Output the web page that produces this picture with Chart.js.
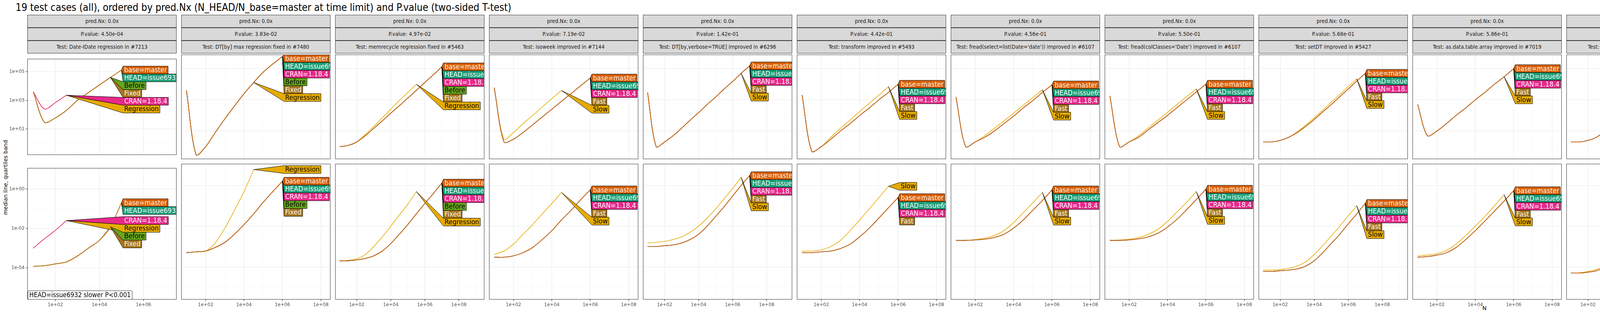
<!DOCTYPE html>
<html><head><meta charset="utf-8">
<script src="https://cdn.jsdelivr.net/npm/chart.js@4.4.1/dist/chart.umd.min.js"></script>
<style>
body{margin:0;background:#fff;width:7600px;height:800px;position:relative;overflow:hidden;font-family:'Liberation Sans Narrow','DejaVu Sans Condensed',sans-serif;}
.strip{position:absolute;background:#D9D9D9;border:1px solid #333;box-sizing:border-box;font-size:14px;color:#1a1a1a;text-align:center;white-space:nowrap;overflow:hidden}
.vstrip{position:absolute;background:#D9D9D9;border:1px solid #333;box-sizing:border-box;font-size:14px;color:#1a1a1a;}
.vstrip span{position:absolute;left:50%;top:50%;transform:translate(-50%,-50%) rotate(90deg);white-space:nowrap}
canvas{position:absolute}
</style></head><body>
<div style="position:absolute;left:40px;top:4px;font-size:26px;color:#000;white-space:nowrap">19 test cases (all), ordered by pred.Nx (N_HEAD/N_base=master at time limit) and P.value (two-sided T-test)</div>
<div style="position:absolute;left:14px;top:455px;width:0;height:0"><div style="position:absolute;transform:translate(-50%,-50%) rotate(-90deg);font-family:'DejaVu Sans',sans-serif;font-size:14px;white-space:nowrap">median line, quartiles band</div></div>
<div style="position:absolute;left:3795px;top:782px;font-family:'DejaVu Sans',sans-serif;font-size:14px">N</div>
<div style="position:absolute;left:71px;top:745px;height:21px;padding:0 3px;border:1px solid #333;border-radius:3px;background:#fff;font-size:17px;line-height:21px;z-index:5">HEAD=issue6932 slower P&lt;0.001</div>
<div id="root"></div>
<script>
const tests = ["Date-IDate regression in #7213","DT[by] max regression fixed in #7480","memrecycle regression fixed in #5463","isoweek improved in #7144","DT[by,verbose=TRUE] improved in #6296","transform improved in #5493","fread(select=list(Date='date')) improved in #6107","fread(colClasses='Date') improved in #6107","setDT improved in #5427","as.data.table.array improved in #7019","forderv(retGrp=F) improved in #4386","fread(colClasses=list(Date='date')) improved in #6107","fwrite refactored in #6393","shallow regression fixed in #4440","melt improved in #5054","DT[by] fixed in #4558","forderv(retGrp=T) improved in #4386","DT[,.SD] improved in #4501","fread disk overhead improved in #6925"];
const pvals = ["4.50e-04","3.83e-02","4.97e-02","7.19e-02","1.42e-01","4.42e-01","4.56e-01","5.50e-01","5.68e-01","5.86e-01","6.02e-01","6.31e-01","7.68e-01","8.13e-01","8.46e-01","9.05e-01","9.27e-01","9.71e-01","9.78e-01"];
const predNx = ["0.0x","0.0x","0.0x","0.0x","0.0x","0.0x","0.0x","0.0x","0.0x","0.0x","0.0x","0.0x","0.0x","0.0x","0.0x","0.0x","0.0x","0.0x","0.0x"];
const rowLabels = ["kilobytes","seconds"];

const N6 = [10,32,100,316,1000,3162,1e4,31623,1e5,316228,1e6];
const N7 = [10,32,100,316,1000,3162,1e4,31623,1e5,316228,1e6,3162278,1e7];
const N5 = [10,32,100,316,1000,3162,1e4,31623,1e5];

const kb01_fast=[4000,30,60,200,1000,3500,12000,40000,130000];
const kb01_fix=[4000,30,60,200,1000,3500,12000,40000];
const kb01_slow=[4000,250,700,2300];
const s01_fast=[1.2e-4,1.3e-4,1.6e-4,2e-4,4e-4,1e-3,2.5e-3,0.012,0.2];
const s01_fix=[1.2e-4,1.3e-4,1.6e-4,2e-4,4e-4,1e-3,2.5e-3,0.012];
const s01_slow=[1e-3,3e-3,8e-3,0.025];
const kb02_all=[4000,0.3,1,8,60,400,2500,13000,60000,200000,600000];
const kb02_slow=[4000,0.3,1,8,60,400,2500,13000];
const s02_all=[5e-4,5.5e-4,6e-4,9e-4,1.6e-3,4e-3,0.012,0.04,0.15,0.5,1.6];
const s02_slow=[5e-4,5.5e-4,6e-4,1.5e-3,8e-3,0.06,0.5,6];
const kb03_all=[1,1.2,2,5,15,45,140,420,1300,4000,13000,40000,130000];
const kb03_slow=[1,1.2,2,6,20,70,250,900,3000,10000];
const s03_all=[2e-4,2e-4,2.2e-4,2.6e-4,3.5e-4,6e-4,1.4e-3,4e-3,0.012,0.04,0.13,0.4,1.3];
const s03_slow=[2e-4,2.1e-4,2.5e-4,4e-4,1e-3,3e-3,0.01,0.035,0.12,0.5];
const kb04_fast=[6000,2,3,8,25,80,250,800,2500,8000,25000];
const kb04_slow=[6000,3,8,30,100,350,1200,4000];
const s04_fast=[3e-4,3e-4,3.5e-4,5e-4,9e-4,2.2e-3,6e-3,0.02,0.06,0.2,0.6];
const s04_slow=[4e-4,6e-4,1.3e-3,4e-3,0.012,0.04,0.13,0.45];
const kb05_fast=[3000,1,2,5,15,50,150,500,1500,5000,15000,50000,150000];
const kb05_slow=[3000,1,2,5,15,50,150,500,1500,5000,15000,50000];
const s05_fast=[1e-3,1e-3,1.1e-3,1.2e-3,1.5e-3,2.2e-3,4e-3,0.01,0.03,0.09,0.3,1,3];
const s05_slow=[1.5e-3,1.6e-3,1.8e-3,2.2e-3,3e-3,5e-3,0.01,0.025,0.07,0.22,0.7,2.5];
const kb06_fast=[2000,0.5,1,3,10,30,100,300,1000,3000,10000];
const kb06_slow=[2000,0.5,1,4,15,50,180,600,2000,7000];
const s06_fast=[5e-4,5e-4,5.5e-4,6e-4,8e-4,1.3e-3,3e-3,8e-3,0.025,0.08,0.25];
const s06_slow=[6e-4,6e-4,7e-4,1e-3,2e-3,6e-3,0.02,0.07,0.25,0.9];
const kb07_fast=[1500,1,2,4,10,30,90,300,900,3000,9000];
const kb07_slow=[1500,1,2,5,15,45,140,450,1400,4500];
const s07_fast=[2e-3,2e-3,2.1e-3,2.3e-3,2.8e-3,4e-3,8e-3,0.02,0.06,0.18,0.6];
const s07_slow=[2e-3,2e-3,2.2e-3,2.6e-3,3.5e-3,6e-3,0.015,0.045,0.14,0.45];
const kb08_fast=[1800,1,2,4,12,35,100,320,1000,3200,10000];
const kb08_slow=[1800,1,2,5,16,50,160,500,1600,5000];
const s08_fast=[2e-3,2e-3,2.1e-3,2.4e-3,3e-3,4.5e-3,9e-3,0.022,0.065,0.2,0.65];
const s08_slow=[2e-3,2.1e-3,2.3e-3,2.8e-3,4e-3,7e-3,0.017,0.05,0.15,0.5];
const kb09_fast=[2,2,2.5,4,8,20,55,170,500,1600,5000,16000,50000];
const kb09_slow=[2,2,2.5,4,9,24,70,220,700,2200,7000,22000];
const s09_fast=[6e-5,6e-5,6.5e-5,7e-5,8e-5,1.1e-4,2e-4,5e-4,1.4e-3,4e-3,0.013,0.04,0.13];
const s09_slow=[7e-5,7e-5,7.5e-5,8.5e-5,1.1e-4,1.8e-4,4e-4,1.1e-3,3.3e-3,0.01,0.032,0.1];
const kb10_fast=[500,5,10,30,100,300,1000,3000,10000,30000,100000];
const kb10_slow=[500,5,10,30,100,300,1000,3000,10000,30000];
const s10_fast=[3e-4,3.2e-4,3.8e-4,5e-4,9e-4,2.2e-3,6e-3,0.018,0.055,0.17,0.55];
const s10_slow=[3.5e-4,3.8e-4,4.5e-4,6.5e-4,1.3e-3,3.5e-3,0.01,0.03,0.1,0.35];
const kb11_fast=[2,2,2.5,4,10,30,80,250,800,2500,8000,25000,80000];
const kb11_slow=[2,2,2.5,4,10,30,80,250,800,2500,8000,25000];
const s11_fast=[5e-5,5e-5,5.5e-5,6.5e-5,1e-4,2e-4,5e-4,1.5e-3,5e-3,0.016,0.05,0.18,0.6];
const s11_slow=[5e-5,5.2e-5,6e-5,7.5e-5,1.2e-4,2.6e-4,7e-4,2.2e-3,7e-3,0.023,0.08,0.3];
const kb12_fast=[1600,1,2,4,11,32,95,310,950,3100,9500];
const kb12_slow=[1600,1,2,5,15,48,150,470,1500,4700];
const s12_fast=[2e-3,2e-3,2.1e-3,2.3e-3,2.9e-3,4.2e-3,8.5e-3,0.021,0.062,0.19,0.62];
const s12_slow=[2e-3,2e-3,2.2e-3,2.7e-3,3.7e-3,6.5e-3,0.016,0.047,0.145,0.47];
const kb13_fast=[300,1,1.5,3,8,25,80,250,800,2500,8000];
const kb13_cran=[0.3,0.3,0.3,0.3,0.3,0.3,0.3];
const kb13_slow=[300,1,1.5,3,8,25,80,250,800,2500];
const s13_fast=[2e-4,2.1e-4,2.4e-4,3e-4,5e-4,1.1e-3,3e-3,9e-3,0.028,0.09,0.28];
const s13_slow=[2.2e-4,2.3e-4,2.6e-4,3.4e-4,6e-4,1.3e-3,3.6e-3,0.011,0.034,0.11];
const kb14_all=[1,1,1.5,3,8,25,80,250,800,2500,8000,25000,80000];
const kb14_slow=[1,1,1.5,3,8,25,80,250,800,2500,8000];
const s14_all=[1e-5,1e-5,1.1e-5,1.3e-5,1.8e-5,3e-5,6e-5,1.5e-4,4.5e-4,1.4e-3,4.5e-3,0.015,0.05];
const s14_slow=[1.5e-5,2e-5,3.5e-5,8e-5,2.2e-4,7e-4,2.2e-3,7e-3,0.022,0.07,0.22];
const kb15_fast=[800,2,4,10,30,90,280,900,2800,9000,28000];
const kb15_slow=[800,2,4,10,30,90,280,900,2800,9000];
const s15_fast=[1.5e-3,1.5e-3,1.6e-3,1.8e-3,2.2e-3,3.5e-3,7e-3,0.018,0.055,0.17,0.55];
const s15_slow=[1.6e-3,1.6e-3,1.8e-3,2.1e-3,2.8e-3,4.8e-3,0.011,0.03,0.09,0.3];
const kb16_fast=[1000,1,2,5,12,35,100,300,1000,3000,10000,30000,100000];
const kb16_slow=[1000,1,2,5,12,35,100,300,1000,3000,10000,30000];
const s16_fast=[4e-4,4e-4,4.2e-4,4.6e-4,5.5e-4,8e-4,1.5e-3,3.5e-3,0.01,0.03,0.09,0.3,1];
const s16_slow=[4.5e-4,4.6e-4,4.9e-4,5.5e-4,7e-4,1.1e-3,2.3e-3,6e-3,0.018,0.055,0.18,0.6];
const kb17_fast=[2,2,2.5,4,10,30,85,260,820,2600,8200,26000,82000];
const kb17_slow=[2,2,2.5,4,10,30,85,260,820,2600,8200,26000];
const s17_fast=[6e-5,6e-5,6.5e-5,7.5e-5,1.1e-4,2.2e-4,5.5e-4,1.6e-3,5e-3,0.016,0.05,0.17,0.55];
const s17_slow=[6e-5,6.2e-5,7e-5,8.5e-5,1.3e-4,2.8e-4,7.5e-4,2.3e-3,7.5e-3,0.024,0.08,0.28];
const kb18_fast=[1200,2,4,10,30,100,300,1000,3000,10000,30000];
const kb18_slow=[1200,2,4,10,30,100,300,1000,3000,10000];
const s18_fast=[8e-4,8e-4,8.5e-4,9.5e-4,1.2e-3,2e-3,4.5e-3,0.012,0.036,0.11,0.35];
const s18_slow=[9e-4,9e-4,1e-3,1.2e-3,1.7e-3,3.2e-3,8e-3,0.023,0.07,0.22];
const kb19_fast=[1500,1,2,4,10,30,90,280,900,2800,9000,28000,90000];
const kb19_slow=[1500,1,2,4,10,30,90,280,900,2800,9000,28000];
const s19_fast=[1.8e-3,1.8e-3,1.9e-3,2e-3,2.4e-3,3.3e-3,6e-3,0.015,0.045,0.14,0.45,1.4,4];
const s19_slow=[1.9e-3,1.9e-3,2e-3,2.2e-3,2.7e-3,4e-3,8e-3,0.021,0.063,0.2,0.65,2];

const COL = {"base=master":"#D95F02","HEAD=issue6932":"#1B9E77","CRAN=1.18.4":"#E7298A","Before":"#66A61E","Regression":"#E6AB02","Fixed":"#A6761D","Slow":"#E6AB02","Fast":"#A6761D"};
const DARKTXT = {"Before":1,"Regression":1,"Slow":1};

function imp(N,kf,ks,sf,ss,kc){
  return {N, kb:[["base=master",kf],["HEAD=issue6932",kf],["CRAN=1.18.4",kc||kf],["Fast",kf],["Slow",ks]],
             sec:[["base=master",sf],["HEAD=issue6932",sf],["CRAN=1.18.4",sf],["Fast",sf],["Slow",ss]]};
}
function fix(N,ka,ks,sa,ss){
  return {N, kb:[["base=master",ka],["HEAD=issue6932",ka],["CRAN=1.18.4",ka],["Before",ka],["Fixed",ka],["Regression",ks]],
             sec:[["base=master",sa],["HEAD=issue6932",sa],["CRAN=1.18.4",sa],["Before",sa],["Fixed",sa],["Regression",ss]]};
}
const panels = [
  {N:N5, kb:[["base=master",kb01_fast],["HEAD=issue6932",kb01_fast],["Before",kb01_fix],["Fixed",kb01_fix],["CRAN=1.18.4",kb01_slow],["Regression",kb01_slow]],
        sec:[["base=master",s01_fast],["HEAD=issue6932",s01_fast],["Before",s01_fix],["Fixed",s01_fix],["CRAN=1.18.4",s01_slow],["Regression",s01_slow]]},
  fix(N6,kb02_all,kb02_slow,s02_all,s02_slow),
  fix(N7,kb03_all,kb03_slow,s03_all,s03_slow),
  imp(N6,kb04_fast,kb04_slow,s04_fast,s04_slow),
  imp(N7,kb05_fast,kb05_slow,s05_fast,s05_slow),
  imp(N6,kb06_fast,kb06_slow,s06_fast,s06_slow),
  imp(N6,kb07_fast,kb07_slow,s07_fast,s07_slow),
  imp(N6,kb08_fast,kb08_slow,s08_fast,s08_slow),
  imp(N7,kb09_fast,kb09_slow,s09_fast,s09_slow),
  imp(N6,kb10_fast,kb10_slow,s10_fast,s10_slow),
  imp(N7,kb11_fast,kb11_slow,s11_fast,s11_slow),
  imp(N6,kb12_fast,kb12_slow,s12_fast,s12_slow),
  imp(N6,kb13_fast,kb13_slow,s13_fast,s13_slow,kb13_cran),
  fix(N7,kb14_all,kb14_slow,s14_all,s14_slow),
  imp(N6,kb15_fast,kb15_slow,s15_fast,s15_slow),
  imp(N7,kb16_fast,kb16_slow,s16_fast,s16_slow),
  imp(N7,kb17_fast,kb17_slow,s17_fast,s17_slow),
  imp(N6,kb18_fast,kb18_slow,s18_fast,s18_slow),
  imp(N7,kb19_fast,kb19_slow,s19_fast,s19_slow)
];

const X0=70, PITCH=394, PW=382, ML=70;
const STRIP_TOP=38, STRIP_H=33;
const ROWS=[{top:140,h:268,min:Math.pow(10,-0.8),max:Math.pow(10,5.9),majorOdd:true},
            {top:420,h:348,min:Math.pow(10,-5.6),max:Math.pow(10,1.06),majorOdd:false}];
const FONT="'Liberation Sans Narrow','DejaVu Sans Condensed',sans-serif";
const root=document.getElementById('root');
function fmt(e){return '1e'+(e>=0?'+':'-')+String(Math.abs(e)).padStart(2,'0');}
function decades(min,max){const a=[];for(let e=Math.ceil(Math.log10(min)-1e-9);e<=Math.floor(Math.log10(max)+1e-9);e++)a.push({value:Math.pow(10,e)});return a;}
function expOf(v){return Math.round(Math.log10(v));}

const labelPlugin={id:'dl',afterDatasetsDraw(chart){
  const ctx=chart.ctx, ca=chart.chartArea, xs=chart.scales.x, ys=chart.scales.y;
  const items=chart.data.datasets.map(d=>{const p=d.data[d.data.length-1];
    return {lab:d.label,ax:xs.getPixelForValue(p.x),ay:Math.min(Math.max(ys.getPixelForValue(p.y),ca.top),ca.bottom)};});
  const H=20; ctx.save(); ctx.font="18px "+FONT;
  const bx=Math.max(...items.map(i=>i.ax))+4;
  items.sort((a,b)=>a.ay-b.ay);
  items.forEach(i=>i.y=i.ay-H/2);
  for(let k=1;k<items.length;k++) if(items[k].y<items[k-1].y+H) items[k].y=items[k-1].y+H;
  const over=items[items.length-1].y+H-ca.bottom; if(over>0) items.forEach(i=>i.y-=over);
  const under=ca.top-items[0].y; if(under>0) items.forEach(i=>i.y+=under);
  items.forEach(i=>{
    const w=ctx.measureText(i.lab).width+6;
    ctx.beginPath();ctx.moveTo(i.ax,i.ay);ctx.lineTo(bx,i.y);ctx.lineTo(bx+w,i.y);ctx.lineTo(bx+w,i.y+H);ctx.lineTo(bx,i.y+H);ctx.closePath();
    ctx.fillStyle=COL[i.lab];ctx.fill();ctx.strokeStyle='#000';ctx.lineWidth=1;ctx.stroke();
    ctx.fillStyle=DARKTXT[i.lab]?'#000':'#fff';ctx.textBaseline='middle';ctx.fillText(i.lab,bx+3,i.y+H/2+1);
  });
  ctx.restore();
}, afterDraw(chart){const c=chart.ctx,a=chart.chartArea;c.save();c.strokeStyle='#333';c.lineWidth=1;c.strokeRect(a.left+0.5,a.top+0.5,a.right-a.left-1,a.bottom-a.top-1);c.restore();}};

function strip(l,t,w,h,txt){const d=document.createElement('div');d.className='strip';d.style.cssText+=`left:${l}px;top:${t}px;width:${w}px;height:${h}px;line-height:${h-2}px`;d.textContent=txt;root.appendChild(d);}

panels.forEach((p,k)=>{
  const left=X0+k*PITCH;
  strip(left,STRIP_TOP,PW,STRIP_H,'pred.Nx: '+predNx[k]);
  strip(left,STRIP_TOP+STRIP_H,PW,STRIP_H,'P.value: '+pvals[k]);
  strip(left,STRIP_TOP+2*STRIP_H,PW,STRIP_H,'Test: '+tests[k]);
  const xmin=p.N[0]/Math.pow(10,0.27), xmax=p.N[p.N.length-1]*Math.pow(10,2.5);
  [p.kb,p.sec].forEach((ser,r)=>{
    const R=ROWS[r], MB=r==1?20:0;
    const cv=document.createElement('canvas');
    cv.width=PW+ML;cv.height=R.h+MB;cv.style.left=(left-ML)+'px';cv.style.top=R.top+'px';
    root.appendChild(cv);
    const isMajY=e=>(Math.abs(e)%2==1)==R.majorOdd;
    new Chart(cv,{type:'line',data:{datasets:ser.map(([lab,arr])=>({label:lab,data:arr.map((v,i)=>({x:p.N[i],y:v})),borderColor:COL[lab],borderWidth:1.6,pointRadius:0,tension:0.3,fill:false}))},
      options:{responsive:false,animation:false,devicePixelRatio:1,layout:{padding:0},
        plugins:{legend:{display:false},tooltip:{enabled:false}},
        scales:{
          x:{type:'logarithmic',min:xmin,max:xmax,afterBuildTicks:s=>{s.ticks=decades(xmin,xmax);},afterFit:s=>{s.height=MB;},
             border:{display:false},
             ticks:{display:r==1,autoSkip:false,maxRotation:0,padding:2,color:'#4D4D4D',font:{size:13,family:FONT},callback:v=>expOf(v)%2==0?fmt(expOf(v)):''},
             grid:{drawTicks:r==1,tickLength:4,tickColor:c=>c.tick&&expOf(c.tick.value)%2==0?'#333':'rgba(0,0,0,0)',color:c=>expOf(c.tick.value)%2==0?'#EBEBEB':'#F4F4F4',lineWidth:c=>expOf(c.tick.value)%2==0?1.2:0.6}},
          y:{type:'logarithmic',min:R.min,max:R.max,afterBuildTicks:s=>{s.ticks=decades(R.min,R.max);},afterFit:s=>{s.width=ML;},
             border:{display:false},
             ticks:{display:k==0,autoSkip:false,color:'#4D4D4D',font:{size:13,family:FONT},callback:v=>isMajY(expOf(v))?fmt(expOf(v)):''},
             grid:{drawTicks:k==0,tickLength:4,tickColor:c=>isMajY(expOf(c.tick.value))?'#333':'rgba(0,0,0,0)',color:c=>isMajY(expOf(c.tick.value))?'#EBEBEB':'#F4F4F4',lineWidth:c=>isMajY(expOf(c.tick.value))?1.2:0.6}}
        }},plugins:[labelPlugin]});
  });
});
ROWS.forEach((R,r)=>{const d=document.createElement('div');d.className='vstrip';d.style.cssText+=`left:${X0+18*PITCH+PW+4}px;top:${R.top}px;width:24px;height:${R.h}px`;d.innerHTML='<span>'+rowLabels[r]+'</span>';root.appendChild(d);});
</script>
</body></html>
